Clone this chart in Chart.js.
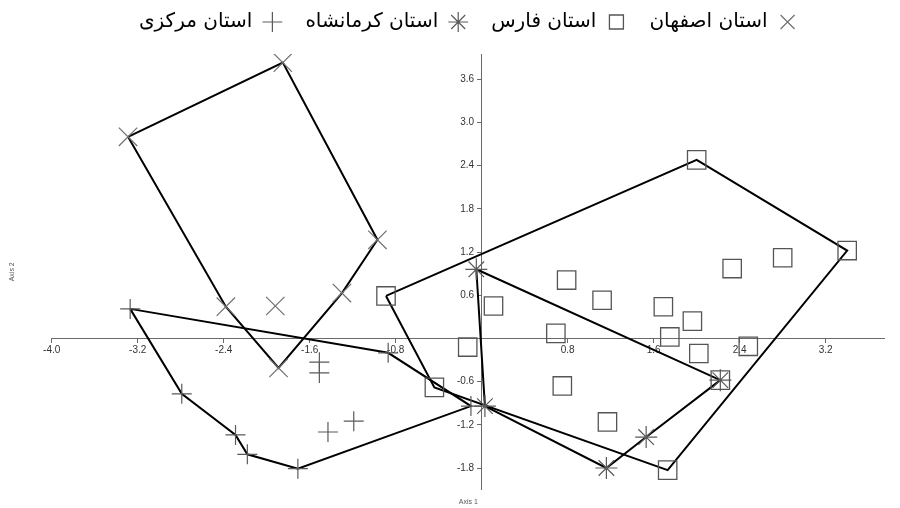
<!DOCTYPE html>
<html dir="ltr">
<head>
<meta charset="utf-8">
<script src="https://cdn.jsdelivr.net/npm/chart.js@4/dist/chart.umd.min.js"></script>
<style>
  html, body { margin: 0; padding: 0; background: #fff; }
  #wrap { width: 900px; height: 508px; position: relative; }
  canvas { direction: ltr; }
</style>
</head>
<body>
<div id="wrap"><canvas id="c"></canvas></div>
<script>
// ---- Data ----
const seriesNames = ['استان اصفهان', 'استان فارس', 'استان کرمانشاه', 'استان مرکزی'];

// Series 1 (X markers)
const isfahanX = [-3.29, -1.85, -0.97, -1.30, -1.89, -2.38, -1.92];
const isfahanY = [ 2.80,  3.83,  1.37,  0.63, -0.41,  0.44,  0.45];
const isfahanHull = [0, 1, 2, 3, 4, 5];

// Series 2 (squares)
const farsX = [2.00, 3.40, 2.80, 2.33, 1.12, 1.69, 1.96, 1.75, 2.02, 2.48, 2.22, 1.17, 1.73, -0.89, 0.79, 0.11, 0.69, -0.13, 0.75, -0.44];
const farsY = [2.48, 1.22, 1.12, 0.97, 0.53, 0.44, 0.24, 0.02, -0.21, -0.11, -0.58, -1.16, -1.83, 0.59, 0.81, 0.45, 0.07, -0.12, -0.66, -0.68];
const farsHull = [13, 0, 1, 12, 19];

// Series 3 (stars)
const kermanshahX = [-0.05, 0.03, 1.16, 1.53, 2.22];
const kermanshahY = [ 0.96, -0.94, -1.80, -1.37, -0.58];
const kermanshahHull = [0, 4, 3, 2, 1];

// Series 4 (plus)
const markaziX = [-3.27, -2.79, -2.29, -2.18, -1.71, -0.10, -0.87, -1.51, -1.51, -1.43, -1.19];
const markaziY = [ 0.41, -0.77, -1.34, -1.61, -1.81, -0.94, -0.20, -0.33, -0.48, -1.30, -1.15];
const markaziHull = [0, 6, 5, 4, 3, 2, 1];

// Axis ranges and tick steps
const xRange = [-4.0, 3.75];
const yRange = [-2.1, 3.95];
const xStep = 0.8;
const yStep = 0.6;
const axisTitles = ['Axis 1', 'Axis 2'];

// ---- Build datasets ----
function pts(xs, ys) { return xs.map((x, i) => ({ x: x, y: ys[i] })); }
function hull(xs, ys, idx) {
  const order = idx.concat([idx[0]]);
  return order.map(i => ({ x: xs[i], y: ys[i] }));
}

const markerColor = '#5e5e5e';
const pointSets = [
  { label: seriesNames[0], data: pts(isfahanX, isfahanY), pointStyle: 'crossRot', pointRadius: 13, borderWidth: 1.2, markerColor: '#707070' },
  { label: seriesNames[1], data: pts(farsX, farsY), pointStyle: 'rect', pointRadius: 13, borderWidth: 1.3, markerColor: '#555555' },
  { label: seriesNames[2], data: pts(kermanshahX, kermanshahY), pointStyle: 'star', pointRadius: 11, borderWidth: 1.2, markerColor: '#5a5a5a' },
  { label: seriesNames[3], data: pts(markaziX, markaziY), pointStyle: 'cross', pointRadius: 10, borderWidth: 1.2, markerColor: '#5a5a5a' }
].map(d => Object.assign(d, {
  showLine: false,
  borderColor: d.markerColor,
  backgroundColor: 'rgba(0,0,0,0)',
  pointBorderColor: d.markerColor,
  pointBackgroundColor: 'rgba(0,0,0,0)',
  pointBorderWidth: d.borderWidth,
  pointHoverRadius: d.pointRadius
}));

const hullSets = [
  hull(isfahanX, isfahanY, isfahanHull),
  hull(farsX, farsY, farsHull),
  hull(kermanshahX, kermanshahY, kermanshahHull),
  hull(markaziX, markaziY, markaziHull)
].map(data => ({
  label: '',
  data: data,
  showLine: true,
  fill: false,
  tension: 0,
  borderColor: '#000',
  borderWidth: 2,
  pointRadius: 0,
  pointHoverRadius: 0
}));

const axisColor = '#6a6a6a';
const tickFont = { family: 'Liberation Sans, Arial, sans-serif', size: 10 };
const fmtX = v => (Math.abs(v) < 1e-9 ? '' : Number(v).toFixed(1));
// labels of a centred y axis sit flush against it; trailing spaces keep the reference gap
const fmtY = v => (Math.abs(v) < 1e-9 ? '' : Number(v).toFixed(1) + '  \u2009');
const hiddenGrid = { display: false, drawTicks: false, tickLength: 0 };

new Chart(document.getElementById('c'), {
  type: 'scatter',
  data: { datasets: pointSets.concat(hullSets) },
  options: {
    responsive: true,
    maintainAspectRatio: false,
    animation: false,
    events: [],
    layout: { padding: { top: -11, left: 0, right: 15.2, bottom: 0 } },
    plugins: {
      tooltip: { enabled: false },
      legend: {
        display: true,
        position: 'top',
        fullSize: false,
        rtl: true,
        labels: {
          usePointStyle: true,
          boxHeight: 14,
          padding: 23,
          color: '#000',
          font: { family: 'DejaVu Sans, sans-serif', size: 20 },
          filter: item => item.datasetIndex < 4
        }
      }
    },
    scales: {
      x: {
        type: 'linear',
        min: xRange[0], max: xRange[1],
        position: { y: 0 },
        grid: { display: true, drawOnChartArea: false, drawTicks: true, tickLength: 4, color: axisColor },
        border: { display: true, color: axisColor, width: 1 },
        ticks: { stepSize: xStep, includeBounds: false, autoSkip: false, maxRotation: 0, padding: 2, color: '#333', font: tickFont, callback: fmtX }
      },
      y: {
        type: 'linear',
        min: yRange[0], max: yRange[1],
        position: { x: 0 },
        grid: { display: true, drawOnChartArea: false, drawTicks: true, tickLength: 4, color: axisColor },
        border: { display: true, color: axisColor, width: 1 },
        ticks: { stepSize: yStep, includeBounds: false, autoSkip: false, padding: 3, color: '#333', font: tickFont, callback: fmtY }
      },
      x2: {
        type: 'linear', position: 'bottom',
        min: xRange[0], max: xRange[1],
        grid: hiddenGrid, border: { display: false },
        ticks: { display: false },
        title: { display: true, text: axisTitles[0], color: '#555', font: { family: 'Liberation Sans, Arial, sans-serif', size: 7 }, padding: { top: 8, bottom: 2 } }
      },
      y2: {
        type: 'linear', position: 'left',
        min: yRange[0], max: yRange[1],
        grid: hiddenGrid, border: { display: false },
        ticks: { display: false },
        title: { display: true, text: axisTitles[1], color: '#555', font: { family: 'Liberation Sans, Arial, sans-serif', size: 7 }, padding: { top: 8, bottom: 35.3 } }
      },
      xTop: {
        type: 'linear', position: 'top',
        min: xRange[0], max: xRange[1],
        grid: hiddenGrid, border: { display: false },
        ticks: { display: false },
        title: { display: true, text: '', font: { size: 10 }, padding: { top: 0, bottom: 0 } }
      }
    }
  }
});
</script>
</body>
</html>
